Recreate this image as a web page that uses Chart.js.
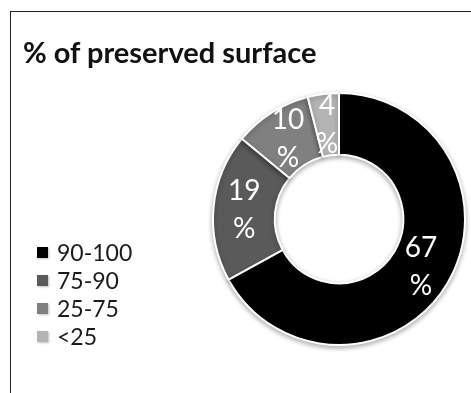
<!DOCTYPE html>
<html>
<head>
<meta charset="utf-8">
<script src="https://cdn.jsdelivr.net/npm/chart.js@4.4.1/dist/chart.umd.min.js"></script>
<style>
html,body{margin:0;padding:0;background:#fff;}
body{width:471px;height:393px;position:relative;overflow:hidden;font-family:Lato,"Open Sans",sans-serif;}
#frame{position:absolute;left:10px;top:11px;width:470px;height:390px;border-top:1.5px solid #222;border-left:1.5px solid #222;}
#title{position:absolute;left:23px;top:38px;font-size:29px;line-height:28px;font-weight:700;color:#111;white-space:nowrap;}
#legend{position:absolute;left:37px;top:238px;}
.row{height:28px;line-height:28px;font-size:23px;color:#1a1a1a;position:relative;padding-left:20px;white-space:nowrap;}
.sw{position:absolute;left:0;top:9px;width:11px;height:11px;box-shadow:1px 1px 2px rgba(0,0,0,.25);}
#wrap{position:absolute;left:0;top:0;width:471px;height:393px;}
</style>
</head>
<body>
<div id="frame"></div>
<div id="wrap"><canvas id="chart"></canvas></div>
<div id="title">% of preserved surface</div>
<div id="legend"></div>
<script>
const CATEGORIES=["90-100","75-90","25-75","<25"];
const VALUES=[67,19,10,4];
const SLICE_COLORS=["#000000","#5a5a5a","#808080","#b4b4b4"];

const $=id=>document.getElementById(id);
$("legend").innerHTML=CATEGORIES.map((c,i)=>`<div class="row"><span class="sw" style="background:${SLICE_COLORS[i]}"></span>${c.replace("<","&lt;")}</div>`).join("");

// two-line labels ("67" / "%") at the middle of each ring slice
const sliceLabels={id:"sliceLabels",afterDatasetsDraw(chart){
  const ctx=chart.ctx;const meta=chart.getDatasetMeta(0);
  ctx.save();ctx.fillStyle="#fff";ctx.textAlign="center";ctx.textBaseline="middle";
  ctx.font="28px Lato, 'Open Sans', sans-serif";
  meta.data.forEach((arc,i)=>{
    const p=arc.tooltipPosition();
    ctx.fillText(String(VALUES[i]),p.x,p.y-19);
    ctx.fillText("%",p.x,p.y+19);
  });
  ctx.restore();
}};
const ringShadow={id:"ringShadow",
  beforeDatasetsDraw(chart){const c=chart.ctx;c.save();c.shadowColor="rgba(0,0,0,0.3)";c.shadowBlur=5;c.shadowOffsetY=2;},
  afterDatasetsDraw(chart){chart.ctx.restore();}
};

new Chart($("chart").getContext("2d"),{
  type:"doughnut",
  data:{labels:CATEGORIES,datasets:[{data:VALUES,backgroundColor:SLICE_COLORS,borderColor:"#fff",borderWidth:2}]},
  options:{responsive:true,maintainAspectRatio:false,animation:false,cutout:"51%",
    layout:{padding:{left:212,right:5,top:92,bottom:47}},
    plugins:{legend:{display:false},tooltip:{enabled:false}}},
  plugins:[ringShadow,sliceLabels]
});
</script>
</body>
</html>
